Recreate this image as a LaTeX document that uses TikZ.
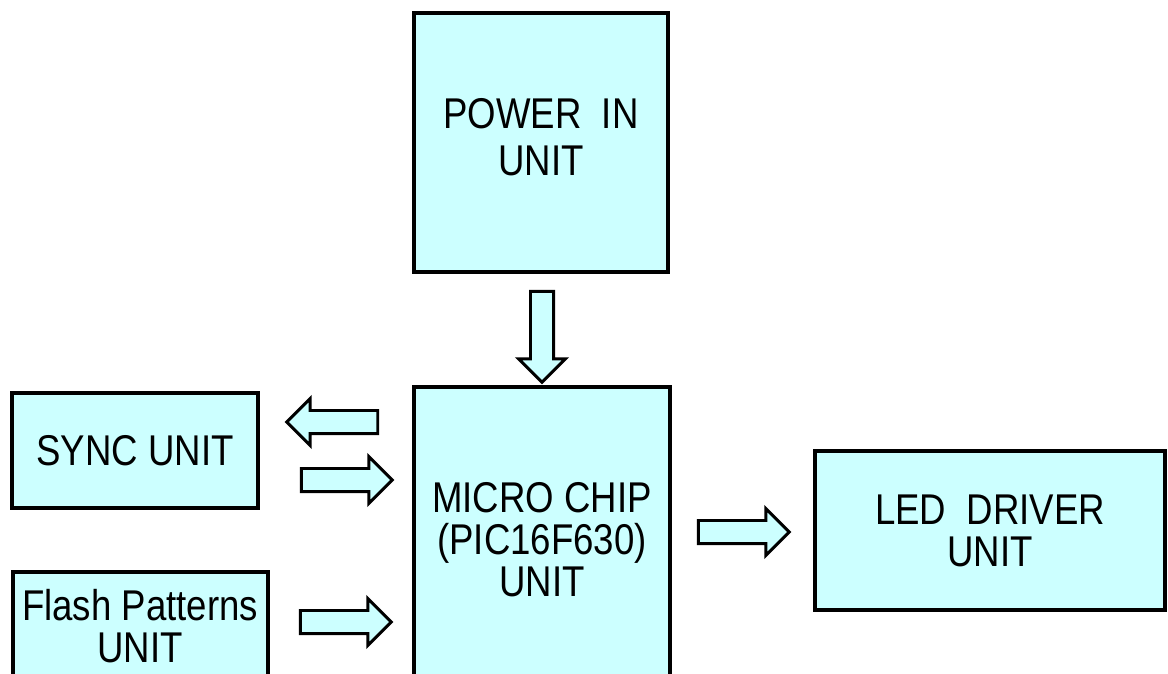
\documentclass[tikz,border=0pt]{standalone}
\usepackage{fontspec}
\setmainfont[FakeStretch=0.85]{Liberation Sans}
\usetikzlibrary{shapes.arrows}

\definecolor{unitcyan}{HTML}{CCFFFF}

\tikzset{
  unit/.style={draw=black, line width=2.2pt, fill=unitcyan, align=center,
    font=\fontsize{24.5}{24}\selectfont, inner sep=0pt},
  unittext/.style={align=center, font=\fontsize{24.5}{24}\selectfont, inner sep=0pt},
  blockarr/.style={single arrow, draw=black, line width=1.7pt, fill=unitcyan,
    inner sep=5.7pt, minimum width=0pt,
    single arrow head extend=6.8pt, single arrow head indent=0pt,
    minimum height=1.82cm}
}

\begin{document}
\begin{tikzpicture}[x=0.02cm, y=-0.02cm]
\useasboundingbox (0,0) rectangle (1168,673);
\clip (0,0) rectangle (1168,673);

\node[unit, minimum width=5.08cm, minimum height=5.18cm] (power) at (541,142.5) {};
\node[unittext] (powertext) at (541,137) {POWER\ \ IN\\[3pt]UNIT};
\node[unit, minimum width=5.12cm, minimum height=6.12cm] (micro) at (542,540) {MICRO CHIP\\(PIC16F630)\\UNIT};
\node[unit, minimum width=4.92cm, minimum height=2.30cm] (sync) at (135,450.5) {SYNC UNIT};
\node[unit, minimum width=5.10cm, minimum height=2.56cm] (flashbox) at (140.5,636) {};
\node[unittext] (flash) at (140,626) {Flash Patterns\\UNIT};
\node[unit, minimum width=7.00cm, minimum height=3.18cm] (led) at (990,530.5) {LED\ \ DRIVER\\UNIT};

\node[blockarr, shape border rotate=270] (pwrin) at (542,331) {};
\node[blockarr, shape border rotate=180] (syncout) at (338,422) {};
\node[blockarr] (syncin) at (341,480) {};
\node[blockarr] (flashin) at (340,622) {};
\node[blockarr] (ledout) at (738,532) {};
\end{tikzpicture}
\end{document}
